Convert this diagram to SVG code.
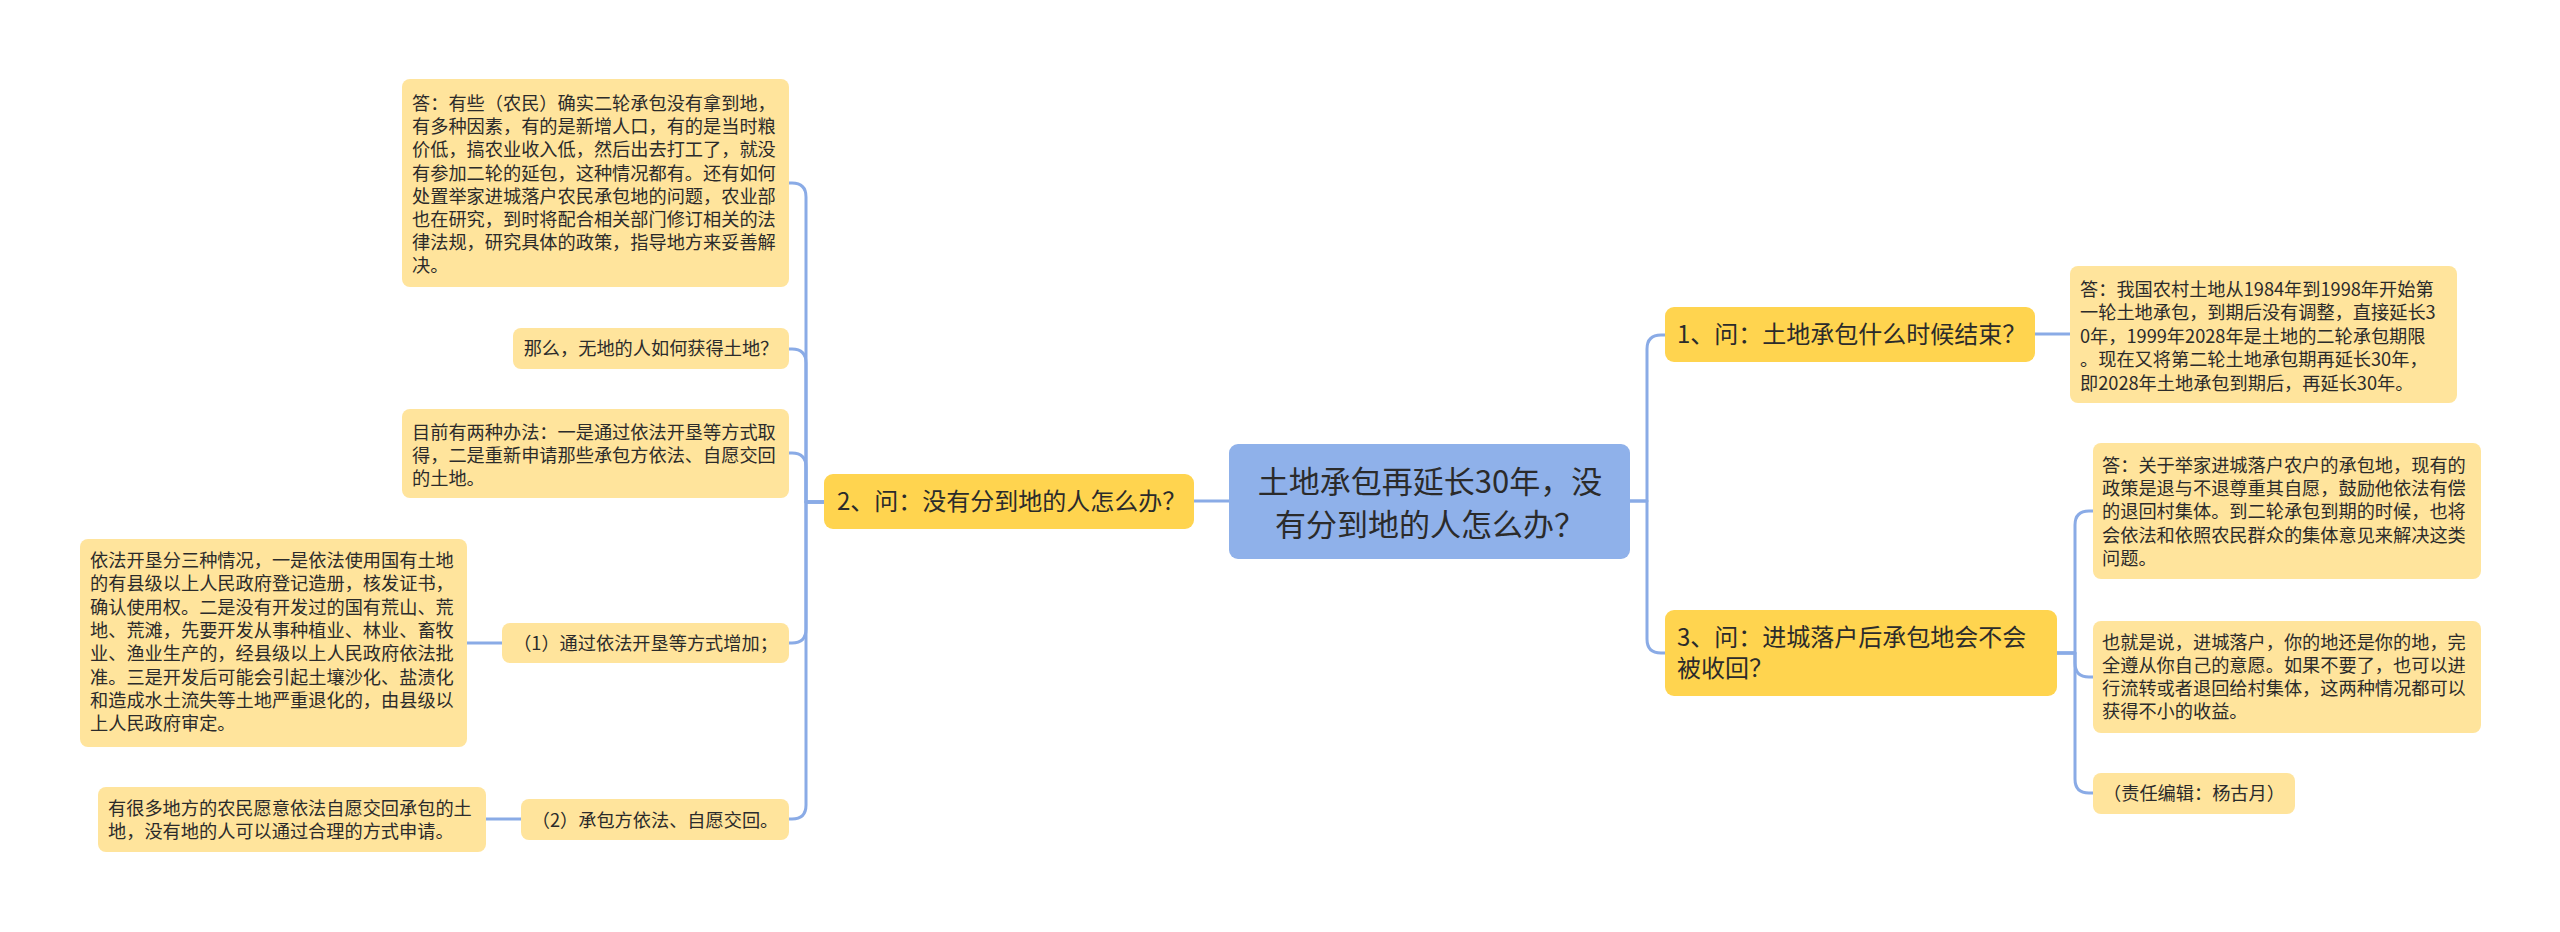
<svg xmlns="http://www.w3.org/2000/svg" width="2560" height="932" viewBox="0 0 2560 932">
<style>
.root{fill:#8fb1ea}
.br{fill:#ffd44f}
.lf{fill:#ffe49c}
text{font-family:"Noto Sans CJK SC","Microsoft YaHei",sans-serif;fill:#2b2b2b}
.t30{font-size:31px}
.t24{font-size:24px}
.t18{font-size:18.2px}
.c{text-anchor:middle}
.ln{fill:none;stroke:#8aabe6;stroke-width:3;stroke-linecap:round;stroke-linejoin:round}
</style>
<rect width="2560" height="932" fill="#ffffff"/>
<g id="connectors">
<path class="ln" d="M1229 501 H1194"/>
<path class="ln" d="M824 502 H806 V197 Q806 183 792 183 H789"/>
<path class="ln" d="M824 502 H806 V363 Q806 349 792 349 H789"/>
<path class="ln" d="M824 502 H806 V467 Q806 453 792 453 H789"/>
<path class="ln" d="M824 502 H806 V629 Q806 643 792 643 H789"/>
<path class="ln" d="M824 502 H806 V805 Q806 819 792 819 H789"/>
<path class="ln" d="M502 643 H467"/>
<path class="ln" d="M521 819 H486"/>
<path class="ln" d="M1630 501 H1647 V349 Q1647 335 1661 335 H1665"/>
<path class="ln" d="M1630 501 H1647 V639 Q1647 653 1661 653 H1665"/>
<path class="ln" d="M2035 334 H2070"/>
<path class="ln" d="M2057 653 H2075 V525 Q2075 511 2089 511 H2093"/>
<path class="ln" d="M2057 653 H2075 V663 Q2075 677 2089 677 H2093"/>
<path class="ln" d="M2057 653 H2075 V779 Q2075 793 2089 793 H2093"/>
</g>
<g id="root">
<rect class="root" x="1229" y="444" width="401" height="115" rx="9"/>
<text class="t30 c" x="1430" y="493">土地承包再延长30年，没</text>
<text class="t30 c" x="1430" y="536">有分到地的人怎么办？</text>
</g>
<g id="b2">
<rect class="br" x="824" y="474" width="370" height="55" rx="9"/>
<text class="t24" x="837" y="510">2、问：没有分到地的人怎么办？</text>
</g>
<g id="b1">
<rect class="br" x="1665" y="307" width="370" height="55" rx="9"/>
<text class="t24" x="1677" y="343">1、问：土地承包什么时候结束？</text>
</g>
<g id="b3">
<rect class="br" x="1665" y="610" width="392" height="86" rx="9"/>
<text class="t24" x="1677" y="646">3、问：进城落户后承包地会不会</text>
<text class="t24" x="1677" y="677">被收回？</text>
</g>
<g id="a1">
<rect class="lf" x="402" y="79" width="387" height="208" rx="8"/>
<text class="t18"><tspan x="412" y="110">答：有些（农民）确实二轮承包没有拿到地，</tspan><tspan x="412" dy="23.2">有多种因素，有的是新增人口，有的是当时粮</tspan><tspan x="412" dy="23.2">价低，搞农业收入低，然后出去打工了，就没</tspan><tspan x="412" dy="23.2">有参加二轮的延包，这种情况都有。还有如何</tspan><tspan x="412" dy="23.2">处置举家进城落户农民承包地的问题，农业部</tspan><tspan x="412" dy="23.2">也在研究，到时将配合相关部门修订相关的法</tspan><tspan x="412" dy="23.2">律法规，研究具体的政策，指导地方来妥善解</tspan><tspan x="412" dy="23.2">决。</tspan></text>
</g>
<g id="q2">
<rect class="lf" x="513" y="328" width="276" height="41" rx="8"/>
<text class="t18 c" x="651" y="355">那么，无地的人如何获得土地？</text>
</g>
<g id="a2">
<rect class="lf" x="402" y="409" width="387" height="89" rx="8"/>
<text class="t18"><tspan x="412" y="438.5">目前有两种办法：一是通过依法开垦等方式取</tspan><tspan x="412" dy="23.3">得，二是重新申请那些承包方依法、自愿交回</tspan><tspan x="412" dy="23.3">的土地。</tspan></text>
</g>
<g id="m1">
<rect class="lf" x="502" y="623" width="287" height="40" rx="8"/>
<text class="t18 c" x="645.5" y="650">（1）通过依法开垦等方式增加；</text>
</g>
<g id="m1a">
<rect class="lf" x="80" y="539" width="387" height="208" rx="8"/>
<text class="t18"><tspan x="90" y="567">依法开垦分三种情况，一是依法使用国有土地</tspan><tspan x="90" dy="23.3">的有县级以上人民政府登记造册，核发证书，</tspan><tspan x="90" dy="23.3">确认使用权。二是没有开发过的国有荒山、荒</tspan><tspan x="90" dy="23.3">地、荒滩，先要开发从事种植业、林业、畜牧</tspan><tspan x="90" dy="23.3">业、渔业生产的，经县级以上人民政府依法批</tspan><tspan x="90" dy="23.3">准。三是开发后可能会引起土壤沙化、盐渍化</tspan><tspan x="90" dy="23.3">和造成水土流失等土地严重退化的，由县级以</tspan><tspan x="90" dy="23.3">上人民政府审定。</tspan></text>
</g>
<g id="m2">
<rect class="lf" x="521" y="799" width="268" height="41" rx="8"/>
<text class="t18 c" x="655" y="827">（2）承包方依法、自愿交回。</text>
</g>
<g id="m2a">
<rect class="lf" x="98" y="787" width="388" height="65" rx="8"/>
<text class="t18"><tspan x="108" y="815">有很多地方的农民愿意依法自愿交回承包的土</tspan><tspan x="108" dy="23.3">地，没有地的人可以通过合理的方式申请。</tspan></text>
</g>
<g id="r1a">
<rect class="lf" x="2070" y="266" width="387" height="137" rx="8"/>
<text class="t18"><tspan x="2080" y="295.5">答：我国农村土地从1984年到1998年开始第</tspan><tspan x="2080" dy="23.5">一轮土地承包，到期后没有调整，直接延长3</tspan><tspan x="2080" dy="23.5">0年，1999年2028年是土地的二轮承包期限</tspan><tspan x="2080" dy="23.5">。现在又将第二轮土地承包期再延长30年，</tspan><tspan x="2080" dy="23.5">即2028年土地承包到期后，再延长30年。</tspan></text>
</g>
<g id="r3a">
<rect class="lf" x="2093" y="443" width="388" height="136" rx="8"/>
<text class="t18"><tspan x="2102" y="471.5">答：关于举家进城落户农户的承包地，现有的</tspan><tspan x="2102" dy="23.4">政策是退与不退尊重其自愿，鼓励他依法有偿</tspan><tspan x="2102" dy="23.4">的退回村集体。到二轮承包到期的时候，也将</tspan><tspan x="2102" dy="23.4">会依法和依照农民群众的集体意见来解决这类</tspan><tspan x="2102" dy="23.4">问题。</tspan></text>
</g>
<g id="r3b">
<rect class="lf" x="2093" y="621" width="388" height="112" rx="8"/>
<text class="t18"><tspan x="2102" y="648.5">也就是说，进城落户，你的地还是你的地，完</tspan><tspan x="2102" dy="23.3">全遵从你自己的意愿。如果不要了，也可以进</tspan><tspan x="2102" dy="23.3">行流转或者退回给村集体，这两种情况都可以</tspan><tspan x="2102" dy="23.3">获得不小的收益。</tspan></text>
</g>
<g id="r3c">
<rect class="lf" x="2093" y="773" width="202" height="41" rx="8"/>
<text class="t18 c" x="2194" y="800">（责任编辑：杨古月）</text>
</g>
</svg>
